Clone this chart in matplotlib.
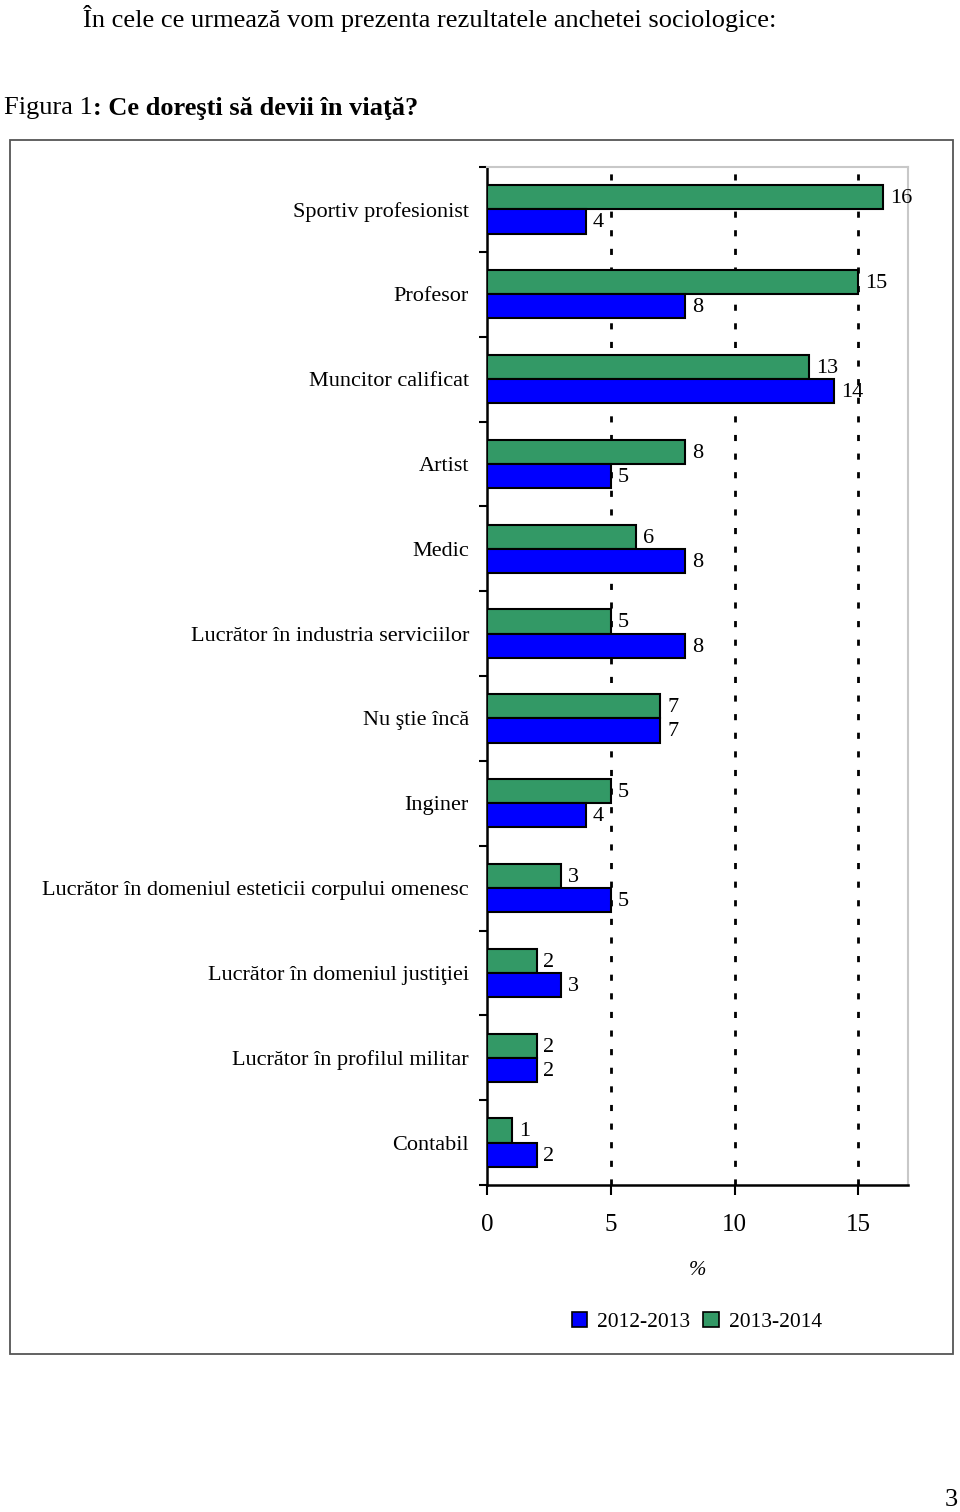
import matplotlib
matplotlib.use("Agg")
import matplotlib.pyplot as plt
from matplotlib.patches import Rectangle, Patch
import numpy as np

plt.rcParams['font.family'] = ['Liberation Serif', 'DejaVu Serif']

categories = [
    "Sportiv profesionist",
    "Profesor",
    "Muncitor calificat",
    "Artist",
    "Medic",
    "Lucrător în industria serviciilor",
    "Nu ştie încă",
    "Inginer",
    "Lucrător în domeniul esteticii corpului omenesc",
    "Lucrător în domeniul justiţiei",
    "Lucrător în profilul militar",
    "Contabil",
]
values_2012_2013 = [4, 8, 14, 5, 8, 8, 7, 4, 5, 3, 2, 2]
values_2013_2014 = [16, 15, 13, 8, 6, 5, 7, 5, 3, 2, 2, 1]
series_names = ["2012-2013", "2013-2014"]
x_ticks = [0, 5, 10, 15]

BLUE = "#0000FF"
GREEN = "#339966"

fig = plt.figure(figsize=(9.6, 15.12), dpi=100)
fig.patch.set_facecolor("white")

# page text
fig.text(83/960, 1 - 18/1512, "În cele ce urmează vom prezenta rezultatele anchetei sociologice:",
         fontsize=19, ha="left", va="center")
t1 = fig.text(4/960, 1 - 108/1512, "Figura 1", fontsize=19, ha="left", va="center")
fig.text(958/960, 1 - 1500/1512, "3", fontsize=19, ha="right", va="center")

# outer box
fig.patches.append(Rectangle((10/960, 1 - 1354/1512), (953 - 10)/960, (1354 - 140)/1512,
                             transform=fig.transFigure, fill=False, edgecolor="#555555",
                             linewidth=1.3, zorder=0))

ax = fig.add_axes([487/960, 1 - 1185/1512, (908 - 487)/960, (1185 - 167)/1512])

ax.annotate(": Ce doreşti să devii în viaţă?", xy=(1, 0.5), xycoords=t1,
            fontsize=19, fontweight="bold", ha="left", va="center",
            annotation_clip=False)

y = np.arange(len(categories))
h = 0.285
ax.barh(y - h/2, values_2013_2014, height=h, color=GREEN, edgecolor="black", linewidth=1.5, zorder=3)
ax.barh(y + h/2, values_2012_2013, height=h, color=BLUE, edgecolor="black", linewidth=1.5, zorder=3)

for i in range(len(categories)):
    ax.annotate(str(values_2013_2014[i]), xy=(values_2013_2014[i], y[i] - h/2),
                xytext=(5, -1), textcoords="offset points", va="center", ha="left",
                fontsize=16)
    ax.annotate(str(values_2012_2013[i]), xy=(values_2012_2013[i], y[i] + h/2),
                xytext=(5, -1), textcoords="offset points", va="center", ha="left",
                fontsize=16)

ax.set_xlim(0, 17)
ax.set_ylim(len(categories) - 0.5, -0.5)

for xv in x_ticks[1:]:
    ax.axvline(xv, color="black", linewidth=2, linestyle=(0, (2.2, 4.5)), zorder=1)

ax.set_xticks(x_ticks)
ax.set_xticklabels([str(v) for v in x_ticks], fontsize=18)
ax.tick_params(axis="x", direction="out", length=7, width=1.5, pad=14)

ax.set_yticks(y)
ax.set_yticklabels(categories, fontsize=16)
ax.tick_params(axis="y", which="major", length=0, pad=13)
ax.set_yticks(np.arange(-0.5, len(categories), 1.0), minor=True)
ax.tick_params(axis="y", which="minor", direction="out", length=6, width=1.5)

for s in ["left", "bottom"]:
    ax.spines[s].set_linewidth(1.8)
    ax.spines[s].set_color("black")
for s in ["top", "right"]:
    ax.spines[s].set_linewidth(1.5)
    ax.spines[s].set_color("#c8c8c8")

ax.set_xlabel("%", fontsize=15, fontstyle="italic", labelpad=18)

handles = [Patch(facecolor=BLUE, edgecolor="black", linewidth=1.2),
           Patch(facecolor=GREEN, edgecolor="black", linewidth=1.2)]
fig.legend(handles, series_names, loc="center", bbox_to_anchor=(697/960, 1 - 1322/1512),
           ncol=2, frameon=False, fontsize=15.5, handlelength=0.7, handleheight=0.7,
           handletextpad=0.5, columnspacing=0.6)

fig.savefig("out.png", dpi=100, facecolor="white")
